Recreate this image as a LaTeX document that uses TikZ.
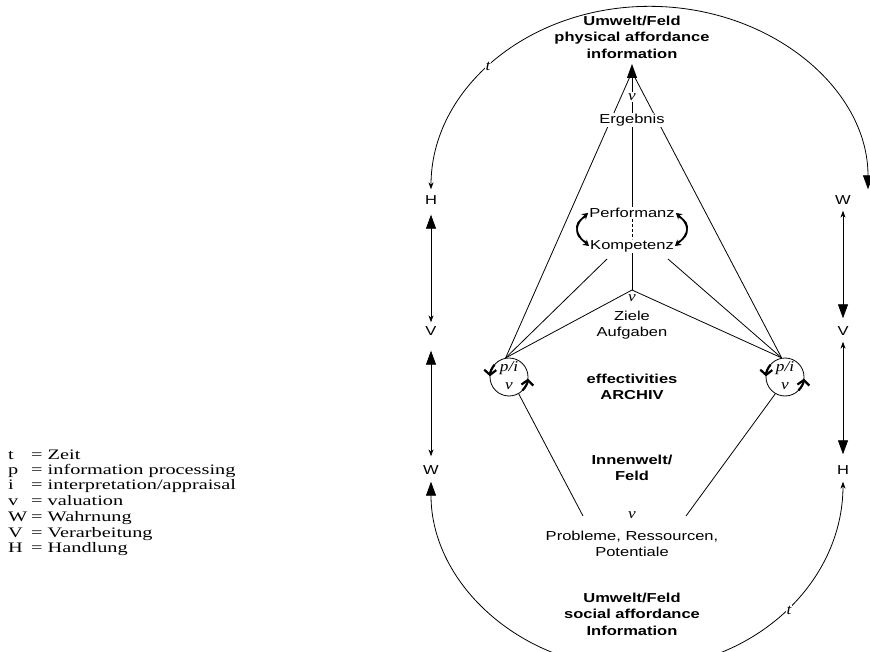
\documentclass[tikz,border=0pt]{standalone}
\usepackage{fontspec}
\setmainfont{Liberation Serif}
\newfontfamily\dsans[FakeStretch=1.27]{Liberation Sans}
\newfontfamily\lserif[FakeStretch=1.4]{Liberation Serif}
\newfontfamily\ivf[FakeStretch=1.15]{Liberation Serif}
\usetikzlibrary{arrows.meta}
\tikzset{
  BigT/.tip={Triangle[width=10pt,length=14pt]},
  SmT/.tip={Stealth[width=5pt,length=7pt]},
  lab/.style={font=\dsans\fontsize{13}{16}\selectfont, align=center, fill=white, inner sep=1pt},
  blab/.style={font=\dsans\bfseries\fontsize{13}{16.5}\selectfont, align=center, fill=white, inner sep=1pt},
  col/.style={font=\dsans\fontsize{13}{16}\selectfont, inner sep=1pt},
  mv/.style={font=\ivf\itshape\fontsize{15}{16}\selectfont, fill=white, inner sep=1pt},
  cir/.style={circle, draw, line width=0.8pt, minimum size=38pt, inner sep=0pt},
  cirarr/.style={line width=2.2pt, -{Straight Barb[length=5pt,width=12pt]}},
  swap/.style={line width=1.4pt, -{Stealth[length=6pt,width=7pt]}},
  leg/.style={font=\lserif\fontsize{14.5}{15}\selectfont, anchor=mid west, inner sep=0pt},
  ln/.style={line width=0.8pt},
}
\begin{document}
\begin{tikzpicture}[x=1pt,y=-1pt]
\useasboundingbox (0,0) rectangle (870,652);

% top / bottom headings
\node[blab] (top) at (632,37) {Umwelt/Feld\\physical affordance\\information};
\node[blab] (bot) at (632,614) {Umwelt/Feld\\social affordance\\Information};

% side column letters
\node[col] (lH) at (431,200) {H};
\node[col] (lV) at (431,331) {V};
\node[col] (lW) at (431,470) {W};
\node[col] (rW) at (843,200) {W};
\node[col] (rV) at (843,331) {V};
\node[col] (rH) at (843,470) {H};

% side arrows
\draw[ln, BigT-SmT, shorten <=9pt, shorten >=3pt] (lH.south) -- (lV.north);
\draw[ln, BigT-SmT, shorten <=14pt, shorten >=8pt] (lV.south) -- (lW.north);
\draw[ln, SmT-BigT, shorten <=5pt, shorten >=7pt] (rW.south) -- (rV.north);
\draw[ln, SmT-BigT, shorten <=5pt, shorten >=10pt] (rV.south) -- (rH.north);

% outer arcs
\draw[ln, SmT-BigT] (lH.north) ++(0,-5) arc[start angle=180, end angle=360, x radius=218.5, y radius=183];
\node[mv] (t1) at (488,66) {t};
\draw[ln, BigT-SmT] (lW.south) ++(0,6) arc[start angle=180, end angle=0, x radius=206, y radius=187];
\node[mv] (t2) at (789,610) {t};

% central nodes
\coordinate (tip) at (632,64);
\coordinate (apex) at (632,72);
\coordinate (zv) at (632,290);
\coordinate (kl) at (607,259);
\coordinate (kr) at (668,259);
\node[cir] (L) at (509,377) {};
\node[cir] (R) at (785,377) {};

% triangle sides (drawn first, labels cover them)
\draw[ln] (apex) -- (L.100);
\draw[ln] (apex) -- (R.100);

\node[lab] (erg) at (632,120) {Ergebnis};
\node[mv] (v1) at (632,97) {v};
\node[lab] (perf) at (632,213) {Performanz};
\node[lab] (komp) at (632,246) {Kompetenz};

\draw[ln, -BigT] (v1.north) -- (tip);
\draw[ln] (v1.south) -- (erg.north);
\draw[ln] (erg.south) -- (perf.north);
\draw[ln, densely dashed] (perf.south) -- (komp.north);
\draw[ln] (komp.south) -- (zv);
\draw[ln] (kl) -- (L.100);
\draw[ln] (kr) -- (R.100);
\draw[ln] (L.100) -- (zv) -- (R.100);

\node[mv, fill=none] (v2) at (632,298) {v};
\node[lab, fill=none] (ziele) at (632,325) {Ziele\\Aufgaben};
\node[blab, fill=none] (eff) at (632,387) {effectivities\\ARCHIV};
\node[blab, fill=none] (inn) at (632,468) {Innenwelt/\\Feld};
\node[mv, fill=none] (v3) at (632,515) {v};
\node[lab, fill=none] (prob) at (632,544) {Probleme, Ressourcen,\\Potentiale};

% circle contents
\node[mv, fill=none] (pl) at (509,368) {p/i};
\node[mv, fill=none] (vl) at (509,386) {v};
\node[mv, fill=none] (pr) at (785,368) {p/i};
\node[mv, fill=none] (vr) at (785,386) {v};
\draw[cirarr] (L.center) ++(220:19) arc[start angle=220, end angle=182, radius=19];
\draw[cirarr] (L.center) ++(45:19) arc[start angle=45, end angle=5, radius=19];
\draw[cirarr] (R.center) ++(220:19) arc[start angle=220, end angle=182, radius=19];
\draw[cirarr] (R.center) ++(45:19) arc[start angle=45, end angle=5, radius=19];

% lower lines
\coordinate (bl) at (583,516);
\coordinate (br) at (686,516);
\draw[ln] (L.-60) -- (bl);
\draw[ln] (R.240) -- (br);

% swap arrows (crossing curved arrows)
\draw[swap] ([shift={(-3,4)}]perf.west) .. controls +(-14,6) and +(-12,-10) .. (komp.west);
\draw[swap] ([shift={(-3,-4)}]komp.west) .. controls +(-14,-6) and +(-12,10) .. (perf.west);
\draw[swap] ([shift={(3,4)}]perf.east) .. controls +(14,6) and +(12,-10) .. (komp.east);
\draw[swap] ([shift={(3,-4)}]komp.east) .. controls +(14,-6) and +(12,10) .. (perf.east);

% legend
\foreach \s/\txt/\y in {t/Zeit/457, p/information processing/472, i/interpretation\slash appraisal/487, v/valuation/503, W/Wahrnung/519, V/Verarbeitung/535, H/Handlung/550}{
  \node[leg] (s\s) at (8,\y) {\s};
  \node[leg] (e\s) at (31,\y) {= \txt};
}
\end{tikzpicture}
\end{document}
